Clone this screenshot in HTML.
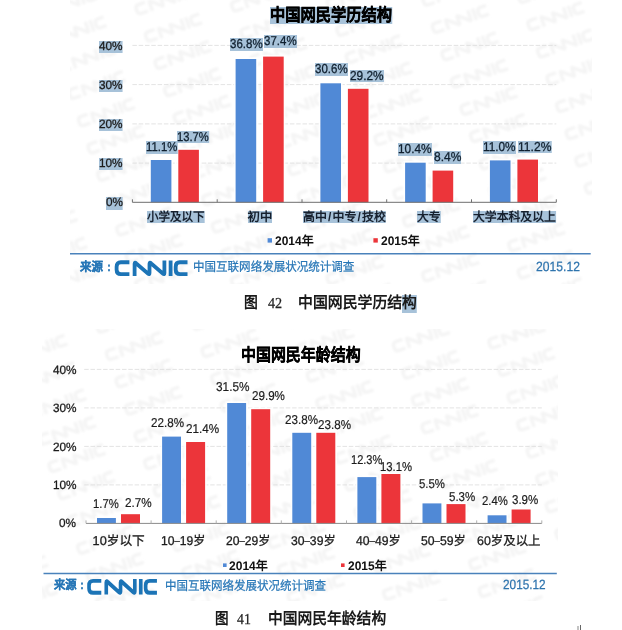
<!DOCTYPE html>
<html lang="zh-CN"><head><meta charset="utf-8"><title>CNNIC</title>
<style>
html,body{margin:0;padding:0;background:#fff;}
body{width:622px;height:630px;position:relative;overflow:hidden;font-family:"Liberation Sans", sans-serif;color:#1c1c1c;text-rendering:geometricPrecision;}
svg{position:absolute;left:0;top:0;}
#pg{position:absolute;left:0;top:0;width:622px;height:630px;filter:blur(0.45px);}
.x{position:absolute;white-space:nowrap;line-height:0;}
.x span.b{display:inline-block;vertical-align:top;}
.h{background:#a7c2d9;}
.d{font-size:12.9px;color:#10202f;-webkit-text-stroke:0.3px #10202f;}
.d2{font-size:12.9px;color:#1c1c1c;-webkit-text-stroke:0.2px #1c1c1c;}
.y{font-size:12px;-webkit-text-stroke:0.3px #1c1c1c;}
.c1{font-size:12.4px;font-weight:bold;color:#16202e;}
.c2{font-size:12.7px;-webkit-text-stroke:0.3px #1c1c1c;}
.ti{font-size:17.6px;font-weight:bold;color:#000;-webkit-text-stroke:0.35px #000;}
.s{font-size:12.5px;color:#2877b7;-webkit-text-stroke:0.25px #2877b7;}
.sb{font-weight:bold;}
.dt{font-size:13.4px;color:#2f74ae;-webkit-text-stroke:0.25px #2f74ae;}
.cap{font-size:16px;font-weight:bold;color:#1a1a1a;}
.num{font-family:"Liberation Serif", serif;font-size:15.2px;color:#222;-webkit-text-stroke:0.25px #222;}
.lg{font-size:12.4px;font-weight:bold;color:#111;}
</style></head><body><div id="pg">
<svg width="622" height="630" viewBox="0 0 622 630">
<defs>
<path id="lg" d="M14.5,1.7H5.9Q1.7,1.7 1.7,5.9V8.9Q1.7,13.1 5.9,13.1H14.5 M19.7,14.8V3.2Q19.7,1.2 21.4,2.9L33,12.6Q34.6,13.9 34.6,11.9V3.2Q34.6,1.2 36.3,2.9L47.9,12.6Q49.5,13.9 49.5,11.9V0 M55.7,0V14.8 M72.6,1.7H65Q60.8,1.7 60.8,5.9V8.9Q60.8,13.1 65,13.1H72.6" fill="none" stroke-linejoin="round"/>
<clipPath id="c1"><rect x="70" y="0" width="522" height="284"/></clipPath>
<clipPath id="c2"><rect x="42" y="329" width="516" height="272"/></clipPath>
<filter id="bl" x="0" y="0" width="622" height="630" filterUnits="userSpaceOnUse"><feGaussianBlur stdDeviation="0.9"/></filter>
</defs>
<g clip-path="url(#c1)" stroke="#f4f4f4" stroke-width="4" filter="url(#bl)">
<use href="#lg" transform="translate(38.8 197.5) rotate(-19.3) scale(0.813) translate(-36.3 -7.4)"/>
<use href="#lg" transform="translate(48.3 224.8) rotate(-19.3) scale(0.813) translate(-36.3 -7.4)"/>
<use href="#lg" transform="translate(57.9 252.0) rotate(-19.3) scale(0.813) translate(-36.3 -7.4)"/>
<use href="#lg" transform="translate(67.4 279.3) rotate(-19.3) scale(0.813) translate(-36.3 -7.4)"/>
<use href="#lg" transform="translate(67.5 3.7) rotate(-19.3) scale(0.813) translate(-36.3 -7.4)"/>
<use href="#lg" transform="translate(77.1 31.0) rotate(-19.3) scale(0.813) translate(-36.3 -7.4)"/>
<use href="#lg" transform="translate(86.6 58.2) rotate(-19.3) scale(0.813) translate(-36.3 -7.4)"/>
<use href="#lg" transform="translate(96.2 85.5) rotate(-19.3) scale(0.813) translate(-36.3 -7.4)"/>
<use href="#lg" transform="translate(105.7 112.8) rotate(-19.3) scale(0.813) translate(-36.3 -7.4)"/>
<use href="#lg" transform="translate(115.3 140.1) rotate(-19.3) scale(0.813) translate(-36.3 -7.4)"/>
<use href="#lg" transform="translate(124.9 167.3) rotate(-19.3) scale(0.813) translate(-36.3 -7.4)"/>
<use href="#lg" transform="translate(134.4 194.6) rotate(-19.3) scale(0.813) translate(-36.3 -7.4)"/>
<use href="#lg" transform="translate(144.0 221.9) rotate(-19.3) scale(0.813) translate(-36.3 -7.4)"/>
<use href="#lg" transform="translate(153.5 249.2) rotate(-19.3) scale(0.813) translate(-36.3 -7.4)"/>
<use href="#lg" transform="translate(163.1 276.5) rotate(-19.3) scale(0.813) translate(-36.3 -7.4)"/>
<use href="#lg" transform="translate(163.2 0.8) rotate(-19.3) scale(0.813) translate(-36.3 -7.4)"/>
<use href="#lg" transform="translate(172.7 28.1) rotate(-19.3) scale(0.813) translate(-36.3 -7.4)"/>
<use href="#lg" transform="translate(182.3 55.4) rotate(-19.3) scale(0.813) translate(-36.3 -7.4)"/>
<use href="#lg" transform="translate(191.8 82.7) rotate(-19.3) scale(0.813) translate(-36.3 -7.4)"/>
<use href="#lg" transform="translate(201.4 109.9) rotate(-19.3) scale(0.813) translate(-36.3 -7.4)"/>
<use href="#lg" transform="translate(210.9 137.2) rotate(-19.3) scale(0.813) translate(-36.3 -7.4)"/>
<use href="#lg" transform="translate(220.5 164.5) rotate(-19.3) scale(0.813) translate(-36.3 -7.4)"/>
<use href="#lg" transform="translate(230.0 191.8) rotate(-19.3) scale(0.813) translate(-36.3 -7.4)"/>
<use href="#lg" transform="translate(239.6 219.0) rotate(-19.3) scale(0.813) translate(-36.3 -7.4)"/>
<use href="#lg" transform="translate(249.1 246.3) rotate(-19.3) scale(0.813) translate(-36.3 -7.4)"/>
<use href="#lg" transform="translate(258.7 273.6) rotate(-19.3) scale(0.813) translate(-36.3 -7.4)"/>
<use href="#lg" transform="translate(258.8 -2.0) rotate(-19.3) scale(0.813) translate(-36.3 -7.4)"/>
<use href="#lg" transform="translate(268.3 25.2) rotate(-19.3) scale(0.813) translate(-36.3 -7.4)"/>
<use href="#lg" transform="translate(277.9 52.5) rotate(-19.3) scale(0.813) translate(-36.3 -7.4)"/>
<use href="#lg" transform="translate(287.5 79.8) rotate(-19.3) scale(0.813) translate(-36.3 -7.4)"/>
<use href="#lg" transform="translate(297.0 107.1) rotate(-19.3) scale(0.813) translate(-36.3 -7.4)"/>
<use href="#lg" transform="translate(306.6 134.3) rotate(-19.3) scale(0.813) translate(-36.3 -7.4)"/>
<use href="#lg" transform="translate(316.1 161.6) rotate(-19.3) scale(0.813) translate(-36.3 -7.4)"/>
<use href="#lg" transform="translate(325.7 188.9) rotate(-19.3) scale(0.813) translate(-36.3 -7.4)"/>
<use href="#lg" transform="translate(335.2 216.2) rotate(-19.3) scale(0.813) translate(-36.3 -7.4)"/>
<use href="#lg" transform="translate(344.8 243.4) rotate(-19.3) scale(0.813) translate(-36.3 -7.4)"/>
<use href="#lg" transform="translate(354.3 270.7) rotate(-19.3) scale(0.813) translate(-36.3 -7.4)"/>
<use href="#lg" transform="translate(363.9 298.0) rotate(-19.3) scale(0.813) translate(-36.3 -7.4)"/>
<use href="#lg" transform="translate(354.4 -4.9) rotate(-19.3) scale(0.813) translate(-36.3 -7.4)"/>
<use href="#lg" transform="translate(364.0 22.4) rotate(-19.3) scale(0.813) translate(-36.3 -7.4)"/>
<use href="#lg" transform="translate(373.5 49.6) rotate(-19.3) scale(0.813) translate(-36.3 -7.4)"/>
<use href="#lg" transform="translate(383.1 76.9) rotate(-19.3) scale(0.813) translate(-36.3 -7.4)"/>
<use href="#lg" transform="translate(392.6 104.2) rotate(-19.3) scale(0.813) translate(-36.3 -7.4)"/>
<use href="#lg" transform="translate(402.2 131.5) rotate(-19.3) scale(0.813) translate(-36.3 -7.4)"/>
<use href="#lg" transform="translate(411.7 158.7) rotate(-19.3) scale(0.813) translate(-36.3 -7.4)"/>
<use href="#lg" transform="translate(421.3 186.0) rotate(-19.3) scale(0.813) translate(-36.3 -7.4)"/>
<use href="#lg" transform="translate(430.8 213.3) rotate(-19.3) scale(0.813) translate(-36.3 -7.4)"/>
<use href="#lg" transform="translate(440.4 240.6) rotate(-19.3) scale(0.813) translate(-36.3 -7.4)"/>
<use href="#lg" transform="translate(449.9 267.8) rotate(-19.3) scale(0.813) translate(-36.3 -7.4)"/>
<use href="#lg" transform="translate(459.5 295.1) rotate(-19.3) scale(0.813) translate(-36.3 -7.4)"/>
<use href="#lg" transform="translate(450.0 -7.8) rotate(-19.3) scale(0.813) translate(-36.3 -7.4)"/>
<use href="#lg" transform="translate(459.6 19.5) rotate(-19.3) scale(0.813) translate(-36.3 -7.4)"/>
<use href="#lg" transform="translate(469.2 46.8) rotate(-19.3) scale(0.813) translate(-36.3 -7.4)"/>
<use href="#lg" transform="translate(478.7 74.1) rotate(-19.3) scale(0.813) translate(-36.3 -7.4)"/>
<use href="#lg" transform="translate(488.3 101.3) rotate(-19.3) scale(0.813) translate(-36.3 -7.4)"/>
<use href="#lg" transform="translate(497.8 128.6) rotate(-19.3) scale(0.813) translate(-36.3 -7.4)"/>
<use href="#lg" transform="translate(507.4 155.9) rotate(-19.3) scale(0.813) translate(-36.3 -7.4)"/>
<use href="#lg" transform="translate(516.9 183.2) rotate(-19.3) scale(0.813) translate(-36.3 -7.4)"/>
<use href="#lg" transform="translate(526.5 210.4) rotate(-19.3) scale(0.813) translate(-36.3 -7.4)"/>
<use href="#lg" transform="translate(536.0 237.7) rotate(-19.3) scale(0.813) translate(-36.3 -7.4)"/>
<use href="#lg" transform="translate(545.6 265.0) rotate(-19.3) scale(0.813) translate(-36.3 -7.4)"/>
<use href="#lg" transform="translate(555.1 292.3) rotate(-19.3) scale(0.813) translate(-36.3 -7.4)"/>
<use href="#lg" transform="translate(545.7 -10.6) rotate(-19.3) scale(0.813) translate(-36.3 -7.4)"/>
<use href="#lg" transform="translate(555.2 16.6) rotate(-19.3) scale(0.813) translate(-36.3 -7.4)"/>
<use href="#lg" transform="translate(564.8 43.9) rotate(-19.3) scale(0.813) translate(-36.3 -7.4)"/>
<use href="#lg" transform="translate(574.3 71.2) rotate(-19.3) scale(0.813) translate(-36.3 -7.4)"/>
<use href="#lg" transform="translate(583.9 98.5) rotate(-19.3) scale(0.813) translate(-36.3 -7.4)"/>
<use href="#lg" transform="translate(593.4 125.7) rotate(-19.3) scale(0.813) translate(-36.3 -7.4)"/>
<use href="#lg" transform="translate(603.0 153.0) rotate(-19.3) scale(0.813) translate(-36.3 -7.4)"/>
<use href="#lg" transform="translate(612.5 180.3) rotate(-19.3) scale(0.813) translate(-36.3 -7.4)"/>
<use href="#lg" transform="translate(622.1 207.6) rotate(-19.3) scale(0.813) translate(-36.3 -7.4)"/>
</g>
<g clip-path="url(#c2)" stroke="#f4f4f4" stroke-width="4" filter="url(#bl)">
<use href="#lg" transform="translate(9.3 543.2) rotate(-19.3) scale(0.813) translate(-36.3 -7.4)"/>
<use href="#lg" transform="translate(18.9 570.4) rotate(-19.3) scale(0.813) translate(-36.3 -7.4)"/>
<use href="#lg" transform="translate(28.4 597.7) rotate(-19.3) scale(0.813) translate(-36.3 -7.4)"/>
<use href="#lg" transform="translate(28.5 322.1) rotate(-19.3) scale(0.813) translate(-36.3 -7.4)"/>
<use href="#lg" transform="translate(38.1 349.4) rotate(-19.3) scale(0.813) translate(-36.3 -7.4)"/>
<use href="#lg" transform="translate(47.6 376.6) rotate(-19.3) scale(0.813) translate(-36.3 -7.4)"/>
<use href="#lg" transform="translate(57.2 403.9) rotate(-19.3) scale(0.813) translate(-36.3 -7.4)"/>
<use href="#lg" transform="translate(66.7 431.2) rotate(-19.3) scale(0.813) translate(-36.3 -7.4)"/>
<use href="#lg" transform="translate(76.3 458.5) rotate(-19.3) scale(0.813) translate(-36.3 -7.4)"/>
<use href="#lg" transform="translate(85.8 485.7) rotate(-19.3) scale(0.813) translate(-36.3 -7.4)"/>
<use href="#lg" transform="translate(95.4 513.0) rotate(-19.3) scale(0.813) translate(-36.3 -7.4)"/>
<use href="#lg" transform="translate(104.9 540.3) rotate(-19.3) scale(0.813) translate(-36.3 -7.4)"/>
<use href="#lg" transform="translate(114.5 567.6) rotate(-19.3) scale(0.813) translate(-36.3 -7.4)"/>
<use href="#lg" transform="translate(124.0 594.8) rotate(-19.3) scale(0.813) translate(-36.3 -7.4)"/>
<use href="#lg" transform="translate(124.1 319.2) rotate(-19.3) scale(0.813) translate(-36.3 -7.4)"/>
<use href="#lg" transform="translate(133.7 346.5) rotate(-19.3) scale(0.813) translate(-36.3 -7.4)"/>
<use href="#lg" transform="translate(143.3 373.8) rotate(-19.3) scale(0.813) translate(-36.3 -7.4)"/>
<use href="#lg" transform="translate(152.8 401.1) rotate(-19.3) scale(0.813) translate(-36.3 -7.4)"/>
<use href="#lg" transform="translate(162.4 428.3) rotate(-19.3) scale(0.813) translate(-36.3 -7.4)"/>
<use href="#lg" transform="translate(171.9 455.6) rotate(-19.3) scale(0.813) translate(-36.3 -7.4)"/>
<use href="#lg" transform="translate(181.5 482.9) rotate(-19.3) scale(0.813) translate(-36.3 -7.4)"/>
<use href="#lg" transform="translate(191.0 510.2) rotate(-19.3) scale(0.813) translate(-36.3 -7.4)"/>
<use href="#lg" transform="translate(200.6 537.4) rotate(-19.3) scale(0.813) translate(-36.3 -7.4)"/>
<use href="#lg" transform="translate(210.1 564.7) rotate(-19.3) scale(0.813) translate(-36.3 -7.4)"/>
<use href="#lg" transform="translate(219.7 592.0) rotate(-19.3) scale(0.813) translate(-36.3 -7.4)"/>
<use href="#lg" transform="translate(219.8 316.4) rotate(-19.3) scale(0.813) translate(-36.3 -7.4)"/>
<use href="#lg" transform="translate(229.3 343.6) rotate(-19.3) scale(0.813) translate(-36.3 -7.4)"/>
<use href="#lg" transform="translate(238.9 370.9) rotate(-19.3) scale(0.813) translate(-36.3 -7.4)"/>
<use href="#lg" transform="translate(248.4 398.2) rotate(-19.3) scale(0.813) translate(-36.3 -7.4)"/>
<use href="#lg" transform="translate(258.0 425.5) rotate(-19.3) scale(0.813) translate(-36.3 -7.4)"/>
<use href="#lg" transform="translate(267.5 452.7) rotate(-19.3) scale(0.813) translate(-36.3 -7.4)"/>
<use href="#lg" transform="translate(277.1 480.0) rotate(-19.3) scale(0.813) translate(-36.3 -7.4)"/>
<use href="#lg" transform="translate(286.6 507.3) rotate(-19.3) scale(0.813) translate(-36.3 -7.4)"/>
<use href="#lg" transform="translate(296.2 534.6) rotate(-19.3) scale(0.813) translate(-36.3 -7.4)"/>
<use href="#lg" transform="translate(305.7 561.8) rotate(-19.3) scale(0.813) translate(-36.3 -7.4)"/>
<use href="#lg" transform="translate(315.3 589.1) rotate(-19.3) scale(0.813) translate(-36.3 -7.4)"/>
<use href="#lg" transform="translate(324.8 616.4) rotate(-19.3) scale(0.813) translate(-36.3 -7.4)"/>
<use href="#lg" transform="translate(315.4 313.5) rotate(-19.3) scale(0.813) translate(-36.3 -7.4)"/>
<use href="#lg" transform="translate(325.0 340.8) rotate(-19.3) scale(0.813) translate(-36.3 -7.4)"/>
<use href="#lg" transform="translate(334.5 368.0) rotate(-19.3) scale(0.813) translate(-36.3 -7.4)"/>
<use href="#lg" transform="translate(344.1 395.3) rotate(-19.3) scale(0.813) translate(-36.3 -7.4)"/>
<use href="#lg" transform="translate(353.6 422.6) rotate(-19.3) scale(0.813) translate(-36.3 -7.4)"/>
<use href="#lg" transform="translate(363.2 449.9) rotate(-19.3) scale(0.813) translate(-36.3 -7.4)"/>
<use href="#lg" transform="translate(372.7 477.1) rotate(-19.3) scale(0.813) translate(-36.3 -7.4)"/>
<use href="#lg" transform="translate(382.3 504.4) rotate(-19.3) scale(0.813) translate(-36.3 -7.4)"/>
<use href="#lg" transform="translate(391.8 531.7) rotate(-19.3) scale(0.813) translate(-36.3 -7.4)"/>
<use href="#lg" transform="translate(401.4 559.0) rotate(-19.3) scale(0.813) translate(-36.3 -7.4)"/>
<use href="#lg" transform="translate(410.9 586.2) rotate(-19.3) scale(0.813) translate(-36.3 -7.4)"/>
<use href="#lg" transform="translate(420.5 613.5) rotate(-19.3) scale(0.813) translate(-36.3 -7.4)"/>
<use href="#lg" transform="translate(420.6 337.9) rotate(-19.3) scale(0.813) translate(-36.3 -7.4)"/>
<use href="#lg" transform="translate(430.1 365.2) rotate(-19.3) scale(0.813) translate(-36.3 -7.4)"/>
<use href="#lg" transform="translate(439.7 392.5) rotate(-19.3) scale(0.813) translate(-36.3 -7.4)"/>
<use href="#lg" transform="translate(449.2 419.7) rotate(-19.3) scale(0.813) translate(-36.3 -7.4)"/>
<use href="#lg" transform="translate(458.8 447.0) rotate(-19.3) scale(0.813) translate(-36.3 -7.4)"/>
<use href="#lg" transform="translate(468.3 474.3) rotate(-19.3) scale(0.813) translate(-36.3 -7.4)"/>
<use href="#lg" transform="translate(477.9 501.6) rotate(-19.3) scale(0.813) translate(-36.3 -7.4)"/>
<use href="#lg" transform="translate(487.4 528.8) rotate(-19.3) scale(0.813) translate(-36.3 -7.4)"/>
<use href="#lg" transform="translate(497.0 556.1) rotate(-19.3) scale(0.813) translate(-36.3 -7.4)"/>
<use href="#lg" transform="translate(506.5 583.4) rotate(-19.3) scale(0.813) translate(-36.3 -7.4)"/>
<use href="#lg" transform="translate(516.1 610.7) rotate(-19.3) scale(0.813) translate(-36.3 -7.4)"/>
<use href="#lg" transform="translate(516.2 335.0) rotate(-19.3) scale(0.813) translate(-36.3 -7.4)"/>
<use href="#lg" transform="translate(525.8 362.3) rotate(-19.3) scale(0.813) translate(-36.3 -7.4)"/>
<use href="#lg" transform="translate(535.3 389.6) rotate(-19.3) scale(0.813) translate(-36.3 -7.4)"/>
<use href="#lg" transform="translate(544.9 416.9) rotate(-19.3) scale(0.813) translate(-36.3 -7.4)"/>
<use href="#lg" transform="translate(554.4 444.1) rotate(-19.3) scale(0.813) translate(-36.3 -7.4)"/>
<use href="#lg" transform="translate(564.0 471.4) rotate(-19.3) scale(0.813) translate(-36.3 -7.4)"/>
<use href="#lg" transform="translate(573.5 498.7) rotate(-19.3) scale(0.813) translate(-36.3 -7.4)"/>
<use href="#lg" transform="translate(583.1 526.0) rotate(-19.3) scale(0.813) translate(-36.3 -7.4)"/>
<use href="#lg" transform="translate(592.6 553.2) rotate(-19.3) scale(0.813) translate(-36.3 -7.4)"/>
</g>
<line x1="132.4" y1="163.1" x2="556.3" y2="163.1" stroke="#dcdcdc" stroke-width="0.8" stroke-dasharray="4.5 1.8"/>
<line x1="132.4" y1="123.9" x2="556.3" y2="123.9" stroke="#dcdcdc" stroke-width="0.8" stroke-dasharray="4.5 1.8"/>
<line x1="132.4" y1="84.6" x2="556.3" y2="84.6" stroke="#dcdcdc" stroke-width="0.8" stroke-dasharray="4.5 1.8"/>
<line x1="132.4" y1="45.4" x2="556.3" y2="45.4" stroke="#dcdcdc" stroke-width="0.8" stroke-dasharray="4.5 1.8"/>
<rect x="150.8" y="160.0" width="20.6" height="42.3" fill="#5089d6" stroke="#fff" stroke-opacity="0.9" stroke-width="3.4" paint-order="stroke"/>
<rect x="178.3" y="149.8" width="20.6" height="52.5" fill="#ec353a" stroke="#fff" stroke-opacity="0.9" stroke-width="3.4" paint-order="stroke"/>
<rect x="235.6" y="59.0" width="20.6" height="143.3" fill="#5089d6" stroke="#fff" stroke-opacity="0.9" stroke-width="3.4" paint-order="stroke"/>
<rect x="263.1" y="56.6" width="20.6" height="145.7" fill="#ec353a" stroke="#fff" stroke-opacity="0.9" stroke-width="3.4" paint-order="stroke"/>
<rect x="320.4" y="83.3" width="20.6" height="119.0" fill="#5089d6" stroke="#fff" stroke-opacity="0.9" stroke-width="3.4" paint-order="stroke"/>
<rect x="347.9" y="88.8" width="20.6" height="113.5" fill="#ec353a" stroke="#fff" stroke-opacity="0.9" stroke-width="3.4" paint-order="stroke"/>
<rect x="405.1" y="162.7" width="20.6" height="39.6" fill="#5089d6" stroke="#fff" stroke-opacity="0.9" stroke-width="3.4" paint-order="stroke"/>
<rect x="432.6" y="170.6" width="20.6" height="31.7" fill="#ec353a" stroke="#fff" stroke-opacity="0.9" stroke-width="3.4" paint-order="stroke"/>
<rect x="489.9" y="160.4" width="20.6" height="41.9" fill="#5089d6" stroke="#fff" stroke-opacity="0.9" stroke-width="3.4" paint-order="stroke"/>
<rect x="517.4" y="159.6" width="20.6" height="42.7" fill="#ec353a" stroke="#fff" stroke-opacity="0.9" stroke-width="3.4" paint-order="stroke"/>
<line x1="132.4" y1="202.3" x2="556.3" y2="202.3" stroke="#6e6e6e" stroke-width="1"/>
<line x1="132.4" y1="199.3" x2="132.4" y2="202.3" stroke="#6e6e6e" stroke-width="1"/>
<line x1="217.2" y1="199.3" x2="217.2" y2="202.3" stroke="#6e6e6e" stroke-width="1"/>
<line x1="302.0" y1="199.3" x2="302.0" y2="202.3" stroke="#6e6e6e" stroke-width="1"/>
<line x1="386.7" y1="199.3" x2="386.7" y2="202.3" stroke="#6e6e6e" stroke-width="1"/>
<line x1="471.5" y1="199.3" x2="471.5" y2="202.3" stroke="#6e6e6e" stroke-width="1"/>
<line x1="556.3" y1="199.3" x2="556.3" y2="202.3" stroke="#6e6e6e" stroke-width="1"/>
<rect x="267.6" y="238.2" width="4.4" height="4.4" fill="#5089d6"/>
<rect x="373.4" y="238.2" width="4.4" height="4.4" fill="#ec353a"/>
<line x1="70" y1="253.8" x2="590.7" y2="253.8" stroke="#4a82bb" stroke-width="1.6"/>
<use href="#lg" stroke="#1c74b6" stroke-width="3.8" transform="translate(114.9 260.5) scale(1 1.04)"/>
<line x1="84.2" y1="484.9" x2="541.8" y2="484.9" stroke="#dcdcdc" stroke-width="0.8" stroke-dasharray="4.5 1.8"/>
<line x1="84.2" y1="446.4" x2="541.8" y2="446.4" stroke="#dcdcdc" stroke-width="0.8" stroke-dasharray="4.5 1.8"/>
<line x1="84.2" y1="407.9" x2="541.8" y2="407.9" stroke="#dcdcdc" stroke-width="0.8" stroke-dasharray="4.5 1.8"/>
<line x1="84.2" y1="369.4" x2="541.8" y2="369.4" stroke="#dcdcdc" stroke-width="0.8" stroke-dasharray="4.5 1.8"/>
<rect x="97.0" y="518.0" width="18.9" height="5.4" fill="#5089d6" stroke="#fff" stroke-opacity="0.9" stroke-width="3.4" paint-order="stroke"/>
<rect x="121.0" y="514.2" width="19.0" height="9.2" fill="#ec353a" stroke="#fff" stroke-opacity="0.9" stroke-width="3.4" paint-order="stroke"/>
<rect x="162.1" y="436.6" width="18.9" height="86.8" fill="#5089d6" stroke="#fff" stroke-opacity="0.9" stroke-width="3.4" paint-order="stroke"/>
<rect x="186.1" y="442.0" width="19.0" height="81.4" fill="#ec353a" stroke="#fff" stroke-opacity="0.9" stroke-width="3.4" paint-order="stroke"/>
<rect x="227.2" y="403.0" width="18.9" height="120.4" fill="#5089d6" stroke="#fff" stroke-opacity="0.9" stroke-width="3.4" paint-order="stroke"/>
<rect x="251.2" y="409.2" width="19.0" height="114.2" fill="#ec353a" stroke="#fff" stroke-opacity="0.9" stroke-width="3.4" paint-order="stroke"/>
<rect x="292.3" y="432.8" width="18.9" height="90.6" fill="#5089d6" stroke="#fff" stroke-opacity="0.9" stroke-width="3.4" paint-order="stroke"/>
<rect x="316.3" y="432.8" width="19.0" height="90.6" fill="#ec353a" stroke="#fff" stroke-opacity="0.9" stroke-width="3.4" paint-order="stroke"/>
<rect x="357.4" y="477.1" width="18.9" height="46.3" fill="#5089d6" stroke="#fff" stroke-opacity="0.9" stroke-width="3.4" paint-order="stroke"/>
<rect x="381.4" y="474.0" width="19.0" height="49.4" fill="#ec353a" stroke="#fff" stroke-opacity="0.9" stroke-width="3.4" paint-order="stroke"/>
<rect x="422.5" y="503.4" width="18.9" height="20.0" fill="#5089d6" stroke="#fff" stroke-opacity="0.9" stroke-width="3.4" paint-order="stroke"/>
<rect x="446.5" y="504.1" width="19.0" height="19.3" fill="#ec353a" stroke="#fff" stroke-opacity="0.9" stroke-width="3.4" paint-order="stroke"/>
<rect x="487.6" y="515.3" width="18.9" height="8.1" fill="#5089d6" stroke="#fff" stroke-opacity="0.9" stroke-width="3.4" paint-order="stroke"/>
<rect x="511.6" y="509.5" width="19.0" height="13.9" fill="#ec353a" stroke="#fff" stroke-opacity="0.9" stroke-width="3.4" paint-order="stroke"/>
<line x1="86.0" y1="523.4" x2="541.8" y2="523.4" stroke="#8a8a8a" stroke-width="1"/>
<line x1="86.0" y1="520.4" x2="86.0" y2="523.4" stroke="#b0b0b0" stroke-width="1"/>
<line x1="151.1" y1="520.4" x2="151.1" y2="523.4" stroke="#b0b0b0" stroke-width="1"/>
<line x1="216.2" y1="520.4" x2="216.2" y2="523.4" stroke="#b0b0b0" stroke-width="1"/>
<line x1="281.3" y1="520.4" x2="281.3" y2="523.4" stroke="#b0b0b0" stroke-width="1"/>
<line x1="346.5" y1="520.4" x2="346.5" y2="523.4" stroke="#b0b0b0" stroke-width="1"/>
<line x1="411.6" y1="520.4" x2="411.6" y2="523.4" stroke="#b0b0b0" stroke-width="1"/>
<line x1="476.7" y1="520.4" x2="476.7" y2="523.4" stroke="#b0b0b0" stroke-width="1"/>
<line x1="541.8" y1="520.4" x2="541.8" y2="523.4" stroke="#b0b0b0" stroke-width="1"/>
<rect x="223" y="563.4" width="3.6" height="3.6" fill="#5089d6"/>
<rect x="341" y="563.4" width="3.6" height="3.6" fill="#ec353a"/>
<line x1="43.5" y1="573.5" x2="556.8" y2="573.5" stroke="#4a82bb" stroke-width="1.6"/>
<use href="#lg" stroke="#1c74b6" stroke-width="3.8" transform="translate(87.4 579.1) scale(0.958 1.045)"/>
<rect x="577.5" y="626" width="1" height="4" fill="#888"/><rect x="580" y="625" width="1" height="5" fill="#666"/>
</svg>
<div class="x ti" style="left:269.8px;top:6.65px;"><span class="b h" style="height:17.3px;line-height:17.3px;transform:scaleX(0.867);transform-origin:0 50%;">中国网民学历结构</span></div>
<div class="x y" style="left:99.4px;top:40.55px;"><span class="b h" style="height:12.2px;line-height:10.5px;transform:scaleX(0.982);transform-origin:0 50%;">40%</span></div>
<div class="x y" style="left:99.4px;top:79.75px;"><span class="b h" style="height:12.2px;line-height:10.5px;transform:scaleX(0.982);transform-origin:0 50%;">30%</span></div>
<div class="x y" style="left:99.4px;top:118.95px;"><span class="b h" style="height:12.2px;line-height:10.5px;transform:scaleX(0.982);transform-origin:0 50%;">20%</span></div>
<div class="x y" style="left:99.4px;top:158.15px;"><span class="b h" style="height:12.2px;line-height:10.5px;transform:scaleX(0.982);transform-origin:0 50%;">10%</span></div>
<div class="x y" style="left:106.0px;top:197.35px;"><span class="b h" style="height:12.2px;line-height:10.5px;transform:scaleX(0.980);transform-origin:0 50%;">0%</span></div>
<div class="x d" style="left:145.8px;top:141.15px;"><span class="b h" style="height:12.8px;line-height:11.1px;transform:scaleX(0.882);transform-origin:0 50%;">11.1%</span></div>
<div class="x d" style="left:177.0px;top:130.55px;"><span class="b h" style="height:12.8px;line-height:11.1px;transform:scaleX(0.870);transform-origin:0 50%;">13.7%</span></div>
<div class="x d" style="left:229.8px;top:38.45px;"><span class="b h" style="height:12.8px;line-height:11.1px;transform:scaleX(0.892);transform-origin:0 50%;">36.8%</span></div>
<div class="x d" style="left:263.5px;top:35.15px;"><span class="b h" style="height:12.8px;line-height:11.1px;transform:scaleX(0.892);transform-origin:0 50%;">37.4%</span></div>
<div class="x d" style="left:314.8px;top:63.15px;"><span class="b h" style="height:12.8px;line-height:11.1px;transform:scaleX(0.892);transform-origin:0 50%;">30.6%</span></div>
<div class="x d" style="left:350.0px;top:69.65px;"><span class="b h" style="height:12.8px;line-height:11.1px;transform:scaleX(0.919);transform-origin:0 50%;">29.2%</span></div>
<div class="x d" style="left:398.4px;top:142.95px;"><span class="b h" style="height:12.8px;line-height:11.1px;transform:scaleX(0.919);transform-origin:0 50%;">10.4%</span></div>
<div class="x d" style="left:433.6px;top:151.05px;"><span class="b h" style="height:12.8px;line-height:11.1px;transform:scaleX(0.932);transform-origin:0 50%;">8.4%</span></div>
<div class="x d" style="left:483.4px;top:140.95px;"><span class="b h" style="height:12.8px;line-height:11.1px;transform:scaleX(0.916);transform-origin:0 50%;">11.0%</span></div>
<div class="x d" style="left:517.6px;top:140.65px;"><span class="b h" style="height:12.8px;line-height:11.1px;transform:scaleX(0.938);transform-origin:0 50%;">11.2%</span></div>
<div class="x c1" style="left:146.6px;top:210.80px;"><span class="b h" style="height:12.4px;line-height:12.4px;transform:scaleX(0.930);transform-origin:0 50%;">小学及以下</span></div>
<div class="x c1" style="left:247.6px;top:210.80px;"><span class="b h" style="height:12.4px;line-height:12.4px;">初中</span></div>
<div class="x c1" style="left:303.4px;top:210.80px;"><span class="b h" style="height:12.4px;line-height:12.4px;transform:scaleX(0.963);transform-origin:0 50%;">高中<span style="margin:0 1.2px">/</span>中专<span style="margin:0 1.2px">/</span>技校</span></div>
<div class="x c1" style="left:417.2px;top:210.80px;"><span class="b h" style="height:12.4px;line-height:12.4px;transform:scaleX(0.952);transform-origin:0 50%;">大专</span></div>
<div class="x c1" style="left:472.8px;top:210.80px;"><span class="b h" style="height:12.4px;line-height:12.4px;transform:scaleX(0.955);transform-origin:0 50%;">大学本科及以上</span></div>
<div class="x lg" style="left:275.0px;top:234.00px;"><span class="b" style="height:14.0px;line-height:14.0px;transform:scaleX(0.966);transform-origin:0 50%;">2014年</span></div>
<div class="x lg" style="left:381.2px;top:234.00px;"><span class="b" style="height:14.0px;line-height:14.0px;transform:scaleX(0.966);transform-origin:0 50%;">2015年</span></div>
<div class="x s sb" style="left:80.0px;top:259.80px;"><span class="b" style="height:14.0px;line-height:14.0px;transform:scaleX(0.919);transform-origin:0 50%;">来源</span></div>
<div class="x s sb" style="left:106.8px;top:259.90px;"><span class="b" style="height:14.0px;line-height:14.0px;transform:scaleX(0.959);transform-origin:0 50%;">:</span></div>
<div class="x s" style="left:193.4px;top:260.00px;"><span class="b" style="height:14.0px;line-height:14.0px;transform:scaleX(0.922);transform-origin:0 50%;">中国互联网络发展状况统计调查</span></div>
<div class="x s dt" style="left:535.6px;top:259.70px;"><span class="b" style="height:14.0px;line-height:14.0px;transform:scaleX(0.907);transform-origin:0 50%;">2015.12</span></div>
<div class="x cap" style="left:243.6px;top:297.10px;"><span class="b" style="height:14.0px;line-height:14.0px;transform:scaleX(0.862);transform-origin:0 50%;">图</span></div>
<div class="x num" style="left:267.6px;top:297.30px;"><span class="b" style="height:14.0px;line-height:14.0px;transform:scaleX(0.935);transform-origin:0 50%;">42</span></div>
<div class="x cap" style="left:297.8px;top:297.10px;"><span class="b" style="height:14.0px;line-height:14.0px;transform:scaleX(0.930);transform-origin:0 50%;">中国网民学历结</span></div>
<div class="x cap" style="left:402.0px;top:295.30px;"><span class="b h" style="height:17.6px;line-height:17.6px;transform:scaleX(0.924);transform-origin:0 50%;">构</span></div>
<div class="x ti" style="left:241.0px;top:347.50px;"><span class="b" style="height:14.0px;line-height:14.0px;transform:scaleX(0.850);transform-origin:0 50%;">中国网民年龄结构</span></div>
<div class="x y" style="left:52.6px;top:362.80px;"><span class="b" style="height:14.0px;line-height:14.0px;transform:scaleX(0.982);transform-origin:0 50%;">40%</span></div>
<div class="x y" style="left:52.6px;top:401.20px;"><span class="b" style="height:14.0px;line-height:14.0px;transform:scaleX(0.982);transform-origin:0 50%;">30%</span></div>
<div class="x y" style="left:52.6px;top:439.60px;"><span class="b" style="height:14.0px;line-height:14.0px;transform:scaleX(0.982);transform-origin:0 50%;">20%</span></div>
<div class="x y" style="left:52.6px;top:478.00px;"><span class="b" style="height:14.0px;line-height:14.0px;transform:scaleX(0.982);transform-origin:0 50%;">10%</span></div>
<div class="x y" style="left:59.2px;top:516.40px;"><span class="b" style="height:14.0px;line-height:14.0px;transform:scaleX(0.980);transform-origin:0 50%;">0%</span></div>
<div class="x d2" style="left:92.6px;top:497.20px;"><span class="b" style="height:14.0px;line-height:14.0px;transform:scaleX(0.878);transform-origin:0 50%;">1.7%</span></div>
<div class="x d2" style="left:125.2px;top:496.00px;"><span class="b" style="height:14.0px;line-height:14.0px;transform:scaleX(0.908);transform-origin:0 50%;">2.7%</span></div>
<div class="x d2" style="left:151.1px;top:416.00px;"><span class="b" style="height:14.0px;line-height:14.0px;transform:scaleX(0.903);transform-origin:0 50%;">22.8%</span></div>
<div class="x d2" style="left:185.6px;top:422.30px;"><span class="b" style="height:14.0px;line-height:14.0px;transform:scaleX(0.908);transform-origin:0 50%;">21.4%</span></div>
<div class="x d2" style="left:215.9px;top:379.90px;"><span class="b" style="height:14.0px;line-height:14.0px;transform:scaleX(0.916);transform-origin:0 50%;">31.5%</span></div>
<div class="x d2" style="left:251.5px;top:388.90px;"><span class="b" style="height:14.0px;line-height:14.0px;transform:scaleX(0.900);transform-origin:0 50%;">29.9%</span></div>
<div class="x d2" style="left:284.9px;top:413.30px;"><span class="b" style="height:14.0px;line-height:14.0px;transform:scaleX(0.903);transform-origin:0 50%;">23.8%</span></div>
<div class="x d2" style="left:318.4px;top:417.60px;"><span class="b" style="height:14.0px;line-height:14.0px;transform:scaleX(0.903);transform-origin:0 50%;">23.8%</span></div>
<div class="x d2" style="left:350.6px;top:453.20px;"><span class="b" style="height:14.0px;line-height:14.0px;transform:scaleX(0.856);transform-origin:0 50%;">12.3%</span></div>
<div class="x d2" style="left:380.3px;top:460.00px;"><span class="b" style="height:14.0px;line-height:14.0px;transform:scaleX(0.878);transform-origin:0 50%;">13.1%</span></div>
<div class="x d2" style="left:418.6px;top:476.70px;"><span class="b" style="height:14.0px;line-height:14.0px;transform:scaleX(0.885);transform-origin:0 50%;">5.5%</span></div>
<div class="x d2" style="left:448.8px;top:490.00px;"><span class="b" style="height:14.0px;line-height:14.0px;transform:scaleX(0.895);transform-origin:0 50%;">5.3%</span></div>
<div class="x d2" style="left:482.3px;top:494.20px;"><span class="b" style="height:14.0px;line-height:14.0px;transform:scaleX(0.881);transform-origin:0 50%;">2.4%</span></div>
<div class="x d2" style="left:511.6px;top:493.40px;"><span class="b" style="height:14.0px;line-height:14.0px;transform:scaleX(0.895);transform-origin:0 50%;">3.9%</span></div>
<div class="x c2" style="left:92.6px;top:533.90px;"><span class="b" style="height:14.0px;line-height:14.0px;">10岁以下</span></div>
<div class="x c2" style="left:160.6px;top:533.90px;"><span class="b" style="height:14.0px;line-height:14.0px;transform:scaleX(0.956);transform-origin:0 50%;">10<span style="font-size:0.78em;position:relative;top:-0.5px">–</span>19岁</span></div>
<div class="x c2" style="left:226.0px;top:533.90px;"><span class="b" style="height:14.0px;line-height:14.0px;transform:scaleX(0.956);transform-origin:0 50%;">20<span style="font-size:0.78em;position:relative;top:-0.5px">–</span>29岁</span></div>
<div class="x c2" style="left:291.0px;top:533.90px;"><span class="b" style="height:14.0px;line-height:14.0px;transform:scaleX(0.960);transform-origin:0 50%;">30<span style="font-size:0.78em;position:relative;top:-0.5px">–</span>39岁</span></div>
<div class="x c2" style="left:356.0px;top:533.90px;"><span class="b" style="height:14.0px;line-height:14.0px;transform:scaleX(0.962);transform-origin:0 50%;">40<span style="font-size:0.78em;position:relative;top:-0.5px">–</span>49岁</span></div>
<div class="x c2" style="left:420.8px;top:533.90px;"><span class="b" style="height:14.0px;line-height:14.0px;transform:scaleX(0.962);transform-origin:0 50%;">50<span style="font-size:0.78em;position:relative;top:-0.5px">–</span>59岁</span></div>
<div class="x c2" style="left:477.3px;top:533.90px;"><span class="b" style="height:14.0px;line-height:14.0px;transform:scaleX(0.979);transform-origin:0 50%;">60岁及以上</span></div>
<div class="x lg" style="left:228.8px;top:558.50px;"><span class="b" style="height:14.0px;line-height:14.0px;transform:scaleX(0.971);transform-origin:0 50%;">2014年</span></div>
<div class="x lg" style="left:347.8px;top:558.50px;"><span class="b" style="height:14.0px;line-height:14.0px;transform:scaleX(0.966);transform-origin:0 50%;">2015年</span></div>
<div class="x s sb" style="left:53.6px;top:578.20px;"><span class="b" style="height:14.0px;line-height:14.0px;transform:scaleX(0.903);transform-origin:0 50%;">来源</span></div>
<div class="x s sb" style="left:80.0px;top:578.20px;"><span class="b" style="height:14.0px;line-height:14.0px;transform:scaleX(0.959);transform-origin:0 50%;">:</span></div>
<div class="x s" style="left:164.6px;top:578.50px;"><span class="b" style="height:14.0px;line-height:14.0px;transform:scaleX(0.920);transform-origin:0 50%;">中国互联网络发展状况统计调查</span></div>
<div class="x s dt" style="left:503.0px;top:577.60px;"><span class="b" style="height:14.0px;line-height:14.0px;transform:scaleX(0.882);transform-origin:0 50%;">2015.12</span></div>
<div class="x cap" style="left:215.0px;top:613.30px;"><span class="b" style="height:14.0px;line-height:14.0px;transform:scaleX(0.849);transform-origin:0 50%;">图</span></div>
<div class="x num" style="left:237.4px;top:613.40px;"><span class="b" style="height:14.0px;line-height:14.0px;transform:scaleX(0.909);transform-origin:0 50%;">41</span></div>
<div class="x cap" style="left:268.0px;top:613.30px;"><span class="b" style="height:14.0px;line-height:14.0px;transform:scaleX(0.923);transform-origin:0 50%;">中国网民年龄结构</span></div>
</div></body></html>
